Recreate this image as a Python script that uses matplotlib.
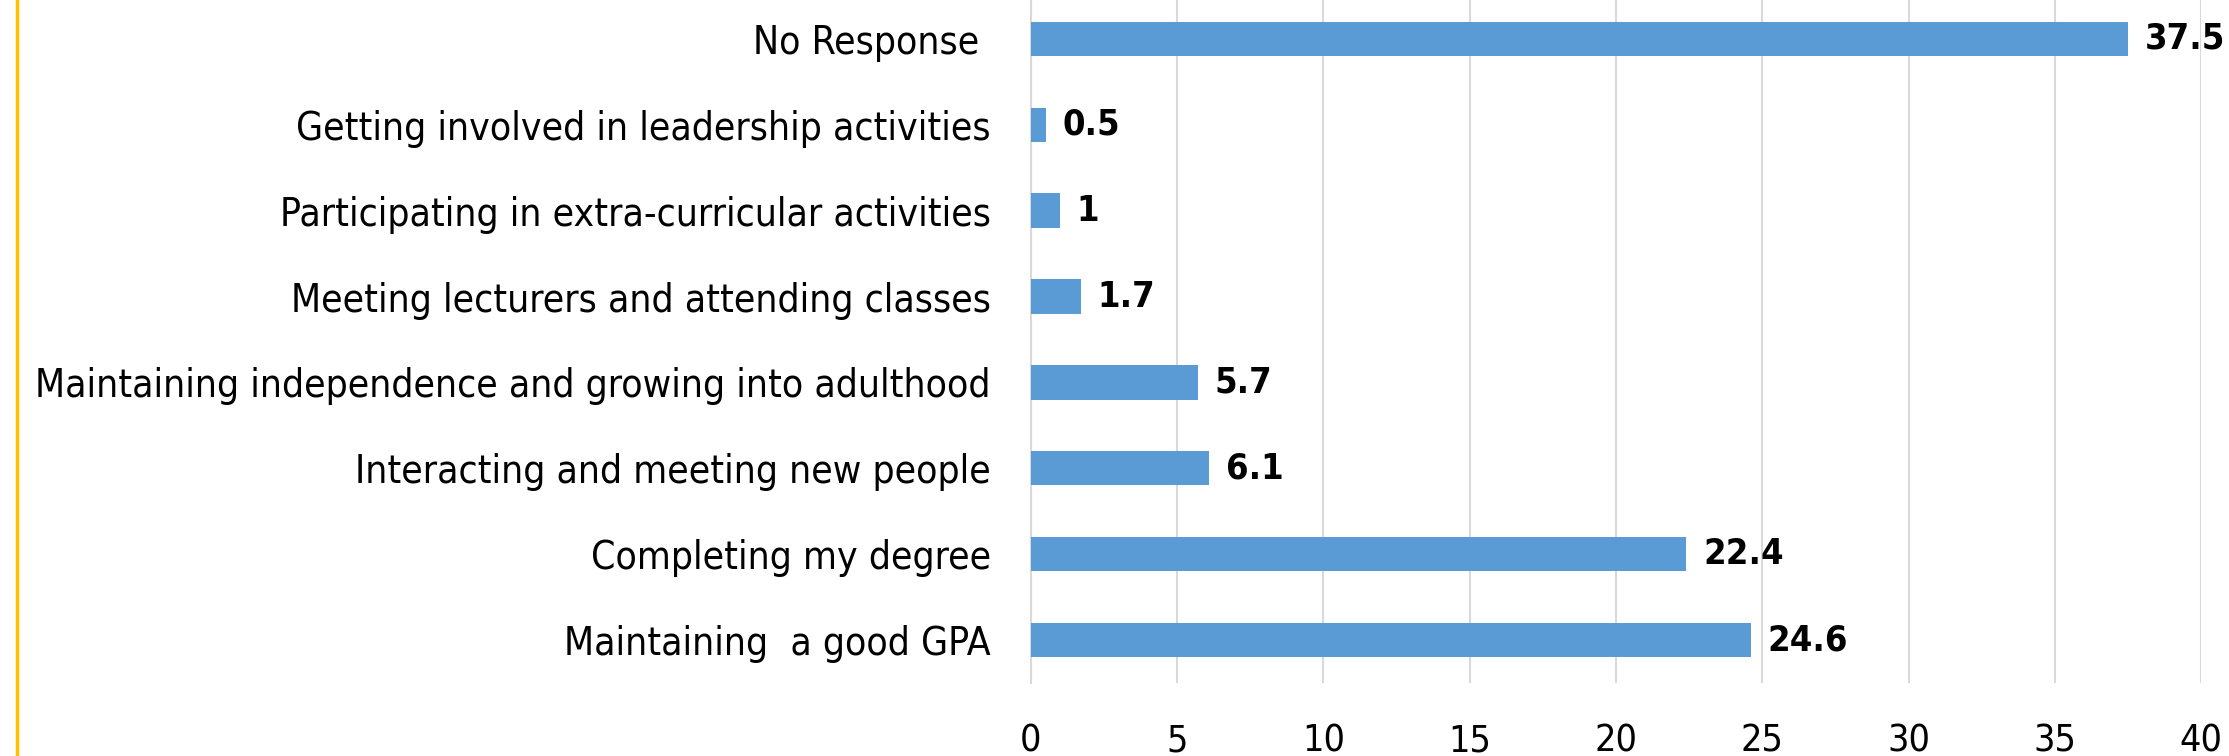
import matplotlib
matplotlib.use("Agg")
import matplotlib.pyplot as plt
from matplotlib.lines import Line2D

# data (bottom -> top, as drawn)
categories = [
    "Maintaining  a good GPA",
    "Completing my degree",
    "Interacting and meeting new people",
    "Maintaining independence and growing into adulthood",
    "Meeting lecturers and attending classes",
    "Participating in extra-curricular activities",
    "Getting involved in leadership activities",
    "No Response ",
]
values = [24.6, 22.4, 6.1, 5.7, 1.7, 1, 0.5, 37.5]
value_labels = ["24.6", "22.4", "6.1", "5.7", "1.7", "1", "0.5", "37.5"]
xticks = [0, 5, 10, 15, 20, 25, 30, 35, 40]

# condensed face stands in for the narrow Calibri look of the original
plt.rcParams["font.family"] = ["DejaVu Sans"]
plt.rcParams["font.stretch"] = "condensed"

fig = plt.figure(figsize=(22.29, 7.56), dpi=100)
ax = fig.add_axes([0.4625, 0.0966, 0.525, 0.9087])

ypos = list(range(len(categories)))
ax.barh(ypos, values, height=0.4, color="#5B9BD5", zorder=3)

for y, v, lab in zip(ypos, values, value_labels):
    ax.annotate(lab, (v, y), xytext=(12, 0), textcoords="offset points",
                va="center", ha="left", fontsize=26, fontweight="bold",
                fontstretch="condensed", color="black")

ax.set_xlim(0, 40)
ax.set_ylim(-0.5, len(categories) - 0.5)
ax.set_xticks(xticks)
ax.set_xticklabels([str(t) for t in xticks])
ax.set_yticks(ypos)
ax.set_yticklabels(categories)

ax.grid(axis="x", color="#D9D9D9", linewidth=1.5, zorder=0)
for side in ["top", "right", "bottom"]:
    ax.spines[side].set_visible(False)
ax.spines["left"].set_color("#D9D9D9")
ax.spines["left"].set_linewidth(1.5)

ax.tick_params(axis="y", length=0, pad=29, labelsize=28)
ax.tick_params(axis="x", length=0, pad=29, labelsize=27)

# yellow frame line on the far left
fig.add_artist(Line2D([0.0076, 0.0076], [0, 1], color="#FFC000", linewidth=2.5))

fig.savefig("out.png", dpi=100)
